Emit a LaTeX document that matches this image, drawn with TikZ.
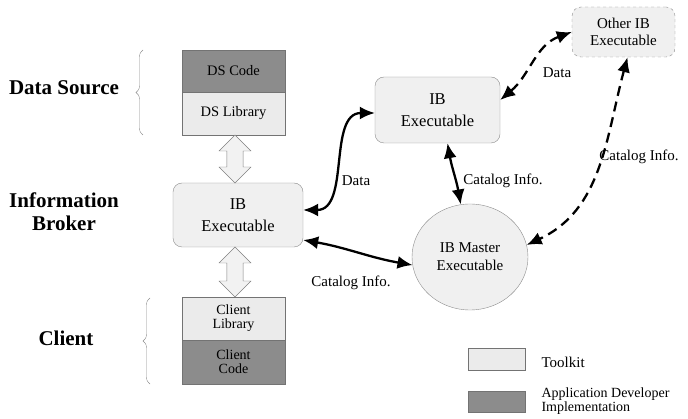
\documentclass[tikz,border=0pt]{standalone}
\usepackage{fontspec}
\setmainfont{Liberation Serif}
\usepackage{tikz}
\usetikzlibrary{arrows.meta,shapes.geometric,shapes.arrows,decorations.pathreplacing}

\tikzset{
    toolkit/.style={draw=black!55, fill=black!8, minimum width=103pt, inner sep=1pt, align=center, font=\fontsize{14.5}{15}\selectfont},
    appdev/.style={toolkit, fill=black!45},
    ibbox/.style={draw=black!45, fill=black!6, rounded corners=9pt, align=center, font=\fontsize{16.5}{22}\selectfont},
    pipe/.style={double arrow, double arrow head extend=4pt, minimum width=32pt, inner sep=4pt, draw=black!50, fill=black!5, shape border rotate=90},
    link/.style={line width=2.3pt, {Latex[length=15pt,width=13pt]}-{Latex[length=15pt,width=13pt]}},
    farlink/.style={link, dash pattern=on 10pt off 6pt},
    side/.style={font=\fontsize{21}{23}\selectfont\bfseries, align=center},
    lbl/.style={font=\fontsize{15}{15}\selectfont},
    grp/.style={draw=black!45, decorate, decoration={brace, amplitude=7pt}}
}

\begin{document}
\begin{tikzpicture}[x=1pt, y=-1pt]
\useasboundingbox (0,0) rectangle (688,419);

\node[side] (dsside) at (64,88) {Data Source};
\node[side] (ibside) at (64,212) {Information\\Broker};
\node[side] (clside) at (66,338) {Client};

\node[appdev, minimum height=42pt] (dscode) at (233.5,71) {DS Code};
\node[toolkit, minimum height=43pt] (dslib) at (233.5,113.5) {DS Library};
\node[toolkit, minimum height=43pt, font=\fontsize{14}{14}\selectfont] (cllib) at (233.5,318.5) {Client\\Library};
\node[appdev, minimum height=44pt, font=\fontsize{14}{14}\selectfont] (clcode) at (233.5,362) {Client\\Code};

\draw[grp] (143,135) -- (143,50);
\draw[grp] (150,384) -- (150,298);

\node[ibbox, minimum width=130pt, minimum height=64pt] (ibleft) at (238,215) {IB\\Executable};
\node[ibbox, minimum width=125pt, minimum height=66pt] (ibtop) at (437.5,110) {IB\\Executable};
\node[ibbox, dashed, minimum width=103pt, minimum height=50pt, font=\fontsize{15}{17}\selectfont] (other) at (623.5,32) {Other IB\\Executable};
\node[ellipse, draw=black!45, fill=black!6, minimum width=116pt, minimum height=106pt, align=center, font=\fontsize{15}{18}\selectfont] (master) at (470,257) {IB Master\\Executable};

\node[pipe, minimum height=48pt] (pipetop) at (235,159) {};
\node[pipe, minimum height=50pt] (pipebot) at (235,272) {};

\draw[link] ([yshift=5pt]ibleft.east) to[out=0, in=180] ([yshift=-3pt]ibtop.west);
\draw[link] ([yshift=-25pt]ibleft.east) to[out=-10, in=170] (master.188);
\draw[link] ([xshift=10pt]ibtop.south) to[out=-80, in=100] (master.100);
\draw[farlink] ([yshift=10pt]ibtop.east) to[out=40, in=200] (other.west);
\draw[farlink] ([xshift=4pt]other.south) to[out=-105, in=25] (master.12);

\node[lbl] (ldata) at (356,181) {Data};
\node[lbl] (lcat1) at (351,283) {Catalog Info.};
\node[lbl] (lcat2) at (503,181) {Catalog Info.};
\node[lbl] (ldata2) at (557,73) {Data};
\node[lbl] (lcat3) at (639,157) {Catalog Info.};

\node[toolkit, minimum width=57pt, minimum height=22pt] (keytk) at (496.5,359) {};
\node[appdev, minimum width=57pt, minimum height=21pt] (keyapp) at (496.5,401.5) {};
\node[lbl, anchor=west] (keytktxt) at (538,362) {Toolkit};
\node[lbl, anchor=west, align=left, font=\fontsize{14}{14}\selectfont] (keyapptxt) at (538,401) {Application Developer\\Implementation};
\end{tikzpicture}
\end{document}
